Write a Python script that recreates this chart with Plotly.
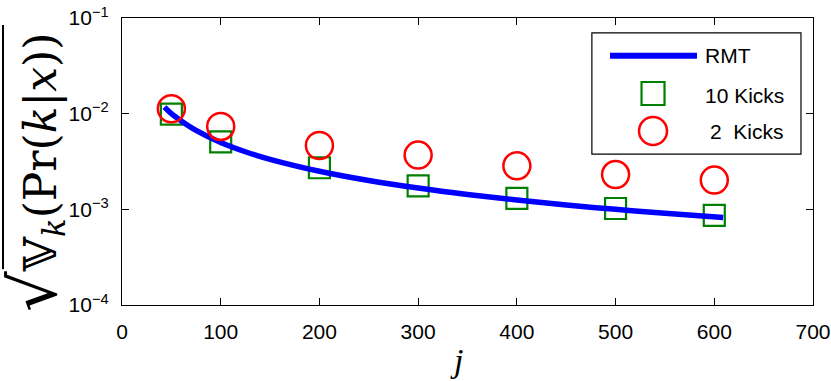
import plotly.graph_objects as go

# ---- data ----
j_rmt = [43, 50, 60, 75, 100, 125, 150, 200, 250, 300, 350, 400, 450, 500, 550, 609]
v_rmt = [0.0117, 0.0100, 0.0084, 0.0067, 0.0050, 0.0040, 0.00333, 0.0025, 0.0020,
         0.00167, 0.00143, 0.00125, 0.00111, 0.00100, 0.00091, 0.00082]
j_kicks = [50, 100, 200, 300, 400, 500, 600]
v_10kicks = [0.0099, 0.00508, 0.00272, 0.00176, 0.0013, 0.00102, 0.000865]
v_2kicks = [0.01125, 0.00735, 0.00465, 0.00369, 0.00285, 0.00231, 0.00202]

x_ticks = [0, 100, 200, 300, 400, 500, 600, 700]
y_tickvals = [1e-4, 1e-3, 1e-2, 1e-1]
y_ticktext = ["10<sup>\u22124</sup>", "10<sup>\u22123</sup>", "10<sup>\u22122</sup>", "10<sup>\u22121</sup>"]

BLUE = "#0000ff"
GREEN = "#008000"
RED = "#ff0000"
TICKFONT = dict(family="Liberation Sans, Arial", size=21, color="black")

fig = go.Figure()
fig.add_trace(go.Scatter(x=j_kicks, y=v_10kicks, mode="markers", name="10 Kicks",
                         marker=dict(symbol="square-open", size=21, color=GREEN,
                                     line=dict(width=2.2, color=GREEN))))
fig.add_trace(go.Scatter(x=j_rmt, y=v_rmt, mode="lines", name="RMT",
                         line=dict(color=BLUE, width=5.5, shape="spline")))
fig.add_trace(go.Scatter(x=j_kicks, y=v_2kicks, mode="markers", name="2  Kicks",
                         marker=dict(symbol="circle-open", size=27, color=RED,
                                     line=dict(width=2.5, color=RED))))

# ---- custom legend (box + glyphs + labels) ----
shapes = [
    dict(type="rect", xref="paper", yref="paper", x0=0.680, x1=0.9826, y0=0.526, y1=0.948,
         line=dict(color="black", width=1.2), fillcolor="white", layer="below"),
    dict(type="line", xref="paper", yref="paper", x0=0.7062, x1=0.8321, y0=0.8686, y1=0.8686,
         line=dict(color=BLUE, width=6)),
    dict(type="rect", xref="paper", yref="paper", xsizemode="pixel", ysizemode="pixel",
         xanchor=0.7685, yanchor=0.7369, x0=-11.5, x1=11.5, y0=-11.5, y1=11.5,
         line=dict(color=GREEN, width=2.2)),
    dict(type="circle", xref="paper", yref="paper", xsizemode="pixel", ysizemode="pixel",
         xanchor=0.7685, yanchor=0.6063, x0=-14, x1=14, y0=-14, y1=14,
         line=dict(color=RED, width=2.5)),
    # overbar of the square root in the y-axis label
    dict(type="line", xref="paper", yref="paper", x0=-0.1722, x1=-0.1722, y0=0.125, y1=0.9756,
         line=dict(color="black", width=2)),
]
LEGFONT = dict(family="Liberation Sans, Arial", size=21, color="black")
annotations = [
    dict(text="RMT", xref="paper", yref="paper", x=0.8408, y=0.8686, xanchor="left",
         yanchor="middle", showarrow=False, font=LEGFONT),
    dict(text="10 Kicks", xref="paper", yref="paper", x=0.9609, y=0.7307, xanchor="right",
         yanchor="middle", showarrow=False, font=LEGFONT),
    dict(text="2\u00a0\u00a0Kicks", xref="paper", yref="paper", x=0.9609, y=0.6028, xanchor="right",
         yanchor="middle", showarrow=False, font=LEGFONT),
    dict(text="<span style='font-size:64px'>\u221a</span>\U0001D54D<sub><i>k</i></sub>(Pr(<i>k</i>|<i>x</i>))",
         xref="paper", yref="paper",
         x=-0.1266, y=0.462, xanchor="center", yanchor="middle", textangle=-90, showarrow=False,
         font=dict(family="DejaVu Serif, Liberation Serif", size=44, color="black")),
    dict(text="<i>j</i>", xref="paper", yref="paper", x=0.4848, y=-0.192,
         xanchor="center", yanchor="middle", showarrow=False,
         font=dict(family="Liberation Serif", size=34, color="black")),
]

fig.update_layout(
    width=831, height=381,
    margin=dict(l=122, r=18, t=18, b=76, autoexpand=False),
    paper_bgcolor="white", plot_bgcolor="white",
    showlegend=False,
    shapes=shapes, annotations=annotations,
    xaxis=dict(range=[0, 700], tickvals=x_ticks, ticks="inside", ticklen=7, tickwidth=1,
               tickcolor="black", showline=True, linecolor="black", linewidth=1.2,
               mirror="allticks", showgrid=False, zeroline=False, tickfont=TICKFONT,
               ticklabelstandoff=8, automargin=False),
    yaxis=dict(type="log", range=[-4, -1], tickvals=y_tickvals, ticktext=y_ticktext,
               ticks="inside", ticklen=7, tickwidth=1, tickcolor="black", showline=True,
               linecolor="black", linewidth=1.2, mirror="allticks", showgrid=False,
               zeroline=False, tickfont=TICKFONT, ticklabelstandoff=8, automargin=False),
)

fig.write_html("out.html", config={"displayModeBar": False},
               post_script="document.body.style.margin='0';")
